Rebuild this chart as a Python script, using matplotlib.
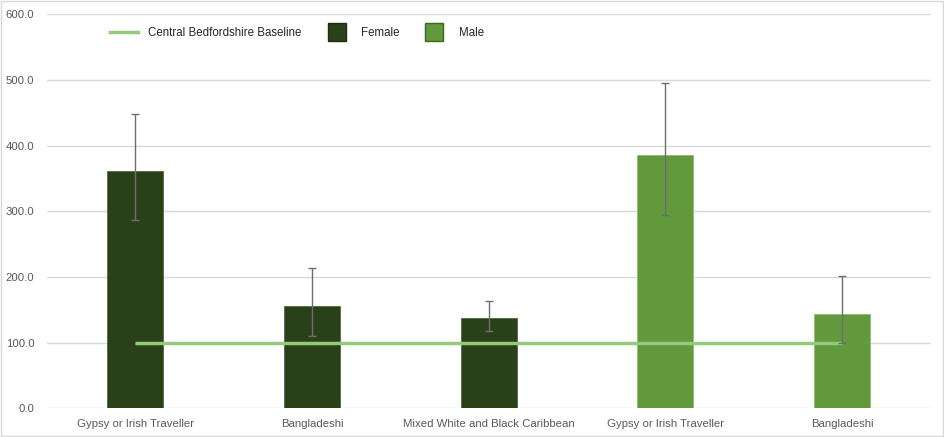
import numpy as np
import matplotlib.pyplot as plt
from matplotlib.lines import Line2D
from matplotlib.patches import Rectangle

plt.rcParams['font.family'] = ['Liberation Sans', 'DejaVu Sans']

# data
categories = ['Gypsy or Irish Traveller', 'Bangladeshi', 'Mixed White and Black Caribbean',
              'Gypsy or Irish Traveller', 'Bangladeshi']
female_vals = [361, 155, 137]
female_lo = [287, 110, 117]
female_hi = [448, 213, 164]
male_vals = [385, 143]
male_lo = [294, 100]
male_hi = [495, 201]
baseline = [100, 100, 100, 100, 100]

female_col = '#2A4019'
male_col = '#62993C'
base_col = '#93C97A'
err_col = '#6E6E6E'
txt_col = '#595959'

fig = plt.figure(figsize=(9.45, 4.37), dpi=100)
ax = fig.add_axes([0.0497, 0.0657, 0.935, 0.902])

x = np.arange(len(categories))
xf = x[:3]
xm = x[3:]
w = 0.317

ax.bar(xf, female_vals, width=w, color=female_col, edgecolor='#4E6B3A', linewidth=0.6, zorder=2)
ax.bar(xm, male_vals, width=w, color=male_col, edgecolor='#8CC070', linewidth=0.6, zorder=2)

ax.plot(x, baseline, color=base_col, lw=2.5, zorder=3, solid_capstyle='butt')

f_err = [np.array(female_vals) - np.array(female_lo), np.array(female_hi) - np.array(female_vals)]
m_err = [np.array(male_vals) - np.array(male_lo), np.array(male_hi) - np.array(male_vals)]
ax.errorbar(xf, female_vals, yerr=f_err, fmt='none', ecolor=err_col, elinewidth=1, capsize=3, capthick=1, zorder=4)
ax.errorbar(xm, male_vals, yerr=m_err, fmt='none', ecolor=err_col, elinewidth=1, capsize=3, capthick=1, zorder=4)

ax.set_xlim(-0.5, len(categories) - 0.5)
ax.set_ylim(0, 600)
ax.set_yticks(np.arange(0, 601, 100))
ax.set_yticklabels([f'{v:.1f}' for v in np.arange(0, 601, 100)])
ax.set_xticks(x)
ax.set_xticklabels(categories)
ax.tick_params(length=0, labelsize=8.2, labelcolor=txt_col)
ax.tick_params(axis='x', pad=8)
ax.tick_params(axis='y', pad=9)
ax.grid(axis='y', color='#D9D9D9', lw=1)
ax.set_axisbelow(True)
for s in ax.spines.values():
    s.set_visible(False)

handles = [
    Line2D([0], [0], color=base_col, lw=2.5),
    Line2D([0], [0], marker='s', ls='none', markersize=13, markerfacecolor=female_col, markeredgecolor='#1E2E12'),
    Line2D([0], [0], marker='s', ls='none', markersize=13, markerfacecolor=male_col, markeredgecolor='#3D6325'),
]
ax.legend(handles, ['Central Bedfordshire Baseline', 'Female', 'Male'], ncol=3, frameon=False,
          loc='center left', bbox_to_anchor=(0.0713, 0.952), fontsize=8.3, labelcolor='#262626',
          handlelength=2.45, handletextpad=0.88, columnspacing=1.8, borderpad=0, borderaxespad=0)

fig.patches.append(Rectangle((0.001, 0.002), 0.997, 0.995, transform=fig.transFigure,
                             fill=False, edgecolor='#D9D9D9', lw=1))

fig.savefig('out.png', dpi=100)
